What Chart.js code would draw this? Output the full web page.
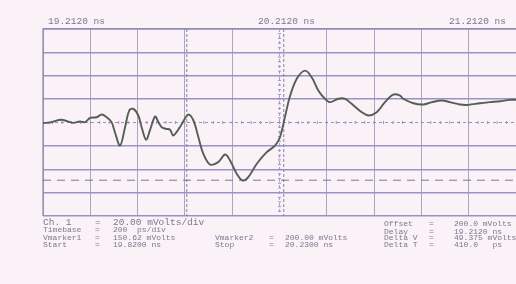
<!DOCTYPE html>
<html>
<head>
<meta charset="utf-8">
<script src="https://cdn.jsdelivr.net/npm/chart.js@4/dist/chart.umd.min.js"></script>
<style>
  html, body { margin: 0; padding: 0; background: #fbf2f7; overflow: hidden; }
  #wrap { width: 516px; height: 284px; position: relative; }
</style>
</head>
<body>
<div id="wrap"><canvas id="scope"></canvas></div>
<script>
// trace: time (ns) and voltage (mV)
const times = [19.212, 19.242, 19.291, 19.339, 19.368, 19.390, 19.411, 19.439, 19.460, 19.481,
  19.502, 19.516, 19.538, 19.559, 19.577, 19.594, 19.615, 19.629, 19.648, 19.664,
  19.686, 19.700, 19.714, 19.732, 19.749, 19.763, 19.791, 19.826, 19.848, 19.869,
  19.890, 19.918, 19.953, 19.982, 20.003, 20.031, 20.056, 20.080, 20.116, 20.158,
  20.193, 20.214, 20.235, 20.256, 20.285, 20.320, 20.348, 20.376, 20.404, 20.426,
  20.461, 20.489, 20.517, 20.560, 20.588, 20.623, 20.658, 20.693, 20.722, 20.735,
  20.778, 20.820, 20.856, 20.898, 20.933, 20.975, 21.010, 21.060, 21.102, 21.144,
  21.186, 21.212];
const volts = [199.6, 200.0, 202.3, 199.7, 200.9, 200.3, 204.0, 204.5, 206.8, 204.5,
  200.3, 191.7, 180.3, 196.0, 210.3, 211.7, 206.0, 196.0, 185.2, 193.2,
  205.1, 200.3, 196.0, 194.6, 193.8, 188.9, 196.0, 206.8, 201.7, 187.4,
  173.2, 164.1, 166.1, 172.6, 167.5, 156.2, 150.4, 153.2, 164.7, 174.6,
  180.3, 187.4, 204.7, 222.2, 237.4, 244.4, 238.7, 227.4, 220.3, 217.4,
  220.3, 220.3, 216.0, 208.8, 206.0, 208.8, 217.4, 223.9, 223.1, 220.3,
  216.5, 215.4, 217.4, 218.8, 217.4, 215.4, 215.1, 216.5, 217.4, 218.2,
  219.4, 219.4];

// screen settings
const delayNs = 19.212;
const nsPerDiv = 0.2;
const offsetMv = 200;
const mvPerDiv = 20;
const timeLabels = ["19.2120 ns", "20.2120 ns", "21.2120 ns"];
const timeMarkers = [19.82, 20.23];
const voltMarkers = [150.62, 200.0];

// readout block under the graticule
const readoutLeft = [["Timebase", "200  ps/div"], ["Vmarker1", "150.62 mVolts"], ["Start", "19.8200 ns"]];
const readoutMid = [["Vmarker2", "200.00 mVolts"], ["Stop", "20.2300 ns"]];
const readoutRight = [["Offset", "200.0 mVolts"], ["Delay", "19.2120 ns"], ["Delta V", "49.375 mVolts"], ["Delta T", "410.0   ps"]];

const points = times.map((t, i) => ({ x: t, y: volts[i] }));

const gridColH = "#9793c6";
const gridColV = "#a9a5c3";
const inkCol = "#7a7890";

const scopePlugin = {
  id: "scope",
  beforeDraw(chart) {
    const c = chart.ctx;
    c.save();
    c.fillStyle = "#fbf2f7";
    c.fillRect(0, 0, chart.width, chart.height);
    c.restore();
  },
  beforeDatasetsDraw(chart) {
    const c = chart.ctx, xs = chart.scales.x, ys = chart.scales.y, a = chart.chartArea;
    c.save();
    // frame top and left edges a little darker
    c.strokeStyle = "#8a87a8";
    c.lineWidth = 1.2;
    c.beginPath(); c.moveTo(a.left, a.bottom); c.lineTo(a.left, a.top); c.lineTo(a.right, a.top); c.stroke();
    // centre axes, dotted with small ticks
    const cx = xs.getPixelForValue(delayNs + 5 * nsPerDiv);
    const cy = ys.getPixelForValue(offsetMv);
    c.lineWidth = 1;
    c.strokeStyle = gridColV;
    c.setLineDash([3, 3]);
    c.beginPath(); c.moveTo(cx, a.top); c.lineTo(cx, a.bottom); c.stroke();
    c.strokeStyle = gridColH;
    c.beginPath(); c.moveTo(a.left, cy); c.lineTo(a.right, cy); c.stroke();
    c.setLineDash([]);
    for (let k = 1; k < 50; k++) {
      const px = xs.getPixelForValue(delayNs + k * nsPerDiv / 5);
      c.beginPath(); c.moveTo(px, cy - 1.5); c.lineTo(px, cy + 1.5); c.stroke();
    }
    for (let k = 1; k < 40; k++) {
      const py = ys.getPixelForValue(offsetMv - 4 * mvPerDiv + k * mvPerDiv / 5);
      c.beginPath(); c.moveTo(cx - 1.5, py); c.lineTo(cx + 1.5, py); c.stroke();
    }
    // time markers
    c.strokeStyle = "#8581ad";
    c.setLineDash([3, 2]);
    timeMarkers.forEach(t => {
      const px = xs.getPixelForValue(t);
      c.beginPath(); c.moveTo(px, a.top); c.lineTo(px, a.bottom); c.stroke();
    });
    // voltage marker 1 (marker 2 sits on the centre line)
    c.setLineDash([8, 6]);
    c.strokeStyle = "#77749a";
    const py1 = ys.getPixelForValue(voltMarkers[0]);
    c.beginPath(); c.moveTo(a.left, py1); c.lineTo(a.right, py1); c.stroke();
    c.restore();
  },
  afterDraw(chart) {
    const c = chart.ctx;
    c.save();
    c.fillStyle = inkCol;
    c.textBaseline = "middle";
    c.font = "9.5px 'Liberation Mono', monospace";
    c.fillText(timeLabels[0], 48, 21);
    c.fillText(timeLabels[1], 258, 21);
    c.fillText(timeLabels[2], 449, 21);

    c.font = "9.5px 'Liberation Mono', monospace";
    c.fillText("Ch. 1", 43, 222);
    c.fillText("=", 95, 222);
    c.fillText("20.00 mVolts/div", 113, 222);

    c.font = "8px 'Liberation Mono', monospace";
    const rows = [230, 237.5, 245];
    readoutLeft.forEach((r, i) => {
      c.fillText(r[0], 43, rows[i]);
      c.fillText("=", 95, rows[i]);
      c.fillText(r[1], 113, rows[i]);
    });
    readoutMid.forEach((r, i) => {
      c.fillText(r[0], 215, rows[i + 1]);
      c.fillText("=", 269, rows[i + 1]);
      c.fillText(r[1], 285, rows[i + 1]);
    });
    const rrows = [224, 231.5, 238, 245];
    readoutRight.forEach((r, i) => {
      c.fillText(r[0], 384, rrows[i]);
      c.fillText("=", 429, rrows[i]);
      c.fillText(r[1], 454, rrows[i]);
    });
    c.restore();
  }
};

new Chart(document.getElementById("scope").getContext("2d"), {
  type: "scatter",
  data: {
    datasets: [{
      data: points,
      showLine: true,
      borderColor: "#535f54",
      borderWidth: 1.9,
      pointRadius: 0,
      tension: 0.35,
      fill: false
    }]
  },
  options: {
    responsive: true,
    maintainAspectRatio: false,
    animation: false,
    layout: { padding: { left: 43, top: 29, right: 0, bottom: 68 } },
    plugins: { legend: { display: false }, tooltip: { enabled: false } },
    scales: {
      x: {
        type: "linear",
        min: delayNs,
        max: delayNs + 10 * nsPerDiv,
        ticks: { display: false, stepSize: nsPerDiv },
        border: { display: false },
        grid: {
          drawTicks: false,
          lineWidth: 1,
          color: ctx => Math.abs(ctx.tick.value - (delayNs + 5 * nsPerDiv)) < 1e-6 ? "rgba(0,0,0,0)" : gridColV
        }
      },
      y: {
        min: offsetMv - 4 * mvPerDiv,
        max: offsetMv + 4 * mvPerDiv,
        ticks: { display: false, stepSize: mvPerDiv },
        border: { display: false },
        grid: {
          drawTicks: false,
          lineWidth: 1.4,
          color: ctx => Math.abs(ctx.tick.value - offsetMv) < 1e-6 ? "rgba(0,0,0,0)" : gridColH
        }
      }
    }
  },
  plugins: [scopePlugin]
});
</script>
</body>
</html>
